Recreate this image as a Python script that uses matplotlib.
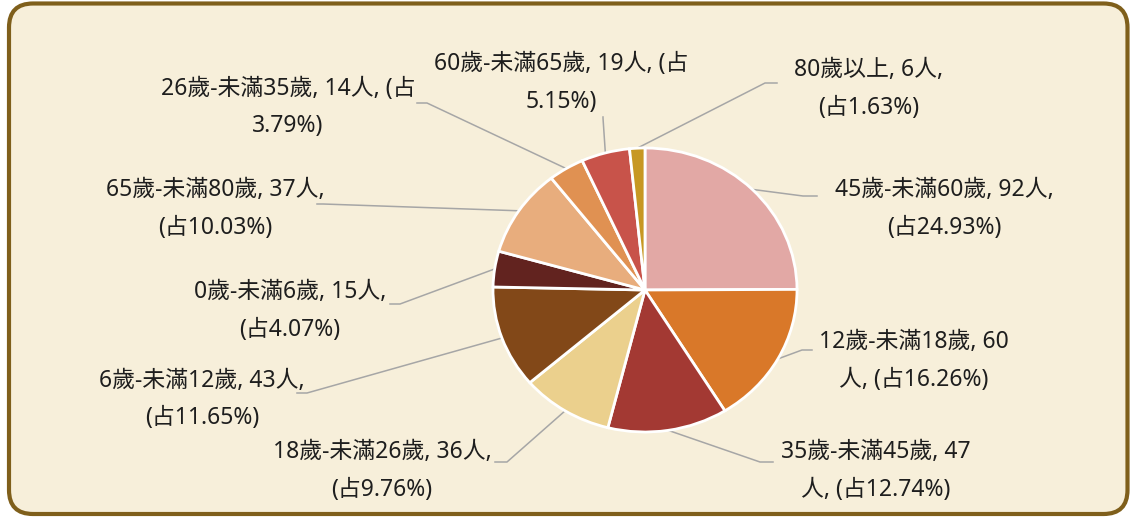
import numpy as np
import matplotlib.pyplot as plt
from matplotlib.patches import FancyBboxPatch

plt.rcParams['font.family'] = ['Noto Sans', 'Noto Sans CJK TC', 'DejaVu Sans']

# Data, clockwise from 12 o'clock
groups = ['45歲-未滿60歲', '12歲-未滿18歲', '35歲-未滿45歲', '18歲-未滿26歲', '6歲-未滿12歲',
          '0歲-未滿6歲', '65歲-未滿80歲', '26歲-未滿35歲', '60歲-未滿65歲', '80歲以上']
counts = [92, 60, 47, 36, 43, 15, 37, 14, 19, 6]
labels = [
    '45歲-未滿60歲, 92人,\n(占24.93%)',
    '12歲-未滿18歲, 60\n人, (占16.26%)',
    '35歲-未滿45歲, 47\n人, (占12.74%)',
    '18歲-未滿26歲, 36人,\n(占9.76%)',
    '6歲-未滿12歲, 43人,\n(占11.65%)',
    '0歲-未滿6歲, 15人,\n(占4.07%)',
    '65歲-未滿80歲, 37人,\n(占10.03%)',
    '26歲-未滿35歲, 14人, (占\n3.79%)',
    '60歲-未滿65歲, 19人, (占\n5.15%)',
    '80歲以上, 6人,\n(占1.63%)',
]
colors = ['#E2A8A5', '#D97829', '#A33933', '#EBD08D', '#824818',
          '#62231F', '#E8AD7D', '#E09152', '#C8534A', '#C79823']

# layout (pixels): label centre of first line, leader elbow, leader end
label_pos = [(944, 190), (914, 342), (876, 452), (382, 452), (202, 381),
             (290, 292), (215, 190), (288, 89), (561, 64), (869, 70)]
elbows = [(803, 196), (802, 350), (760, 462), (507, 462), (307, 393),
          (400, 304), (323, 204), (427, 103), (603, 118), (765, 83)]
ends = [(817, 196), (812, 350), (773, 462), (495, 462), (297, 393),
        (390, 304), (317, 204), (417, 103), (603, 117), (777, 83)]

W, H = 1131, 517
fig = plt.figure(figsize=(W / 100, H / 100), dpi=100)
fig.patch.set_facecolor('white')

# overlay axes in pixel coordinates
ax = fig.add_axes([0, 0, 1, 1])
ax.set_xlim(0, W)
ax.set_ylim(H, 0)
ax.axis('off')
ax.add_patch(FancyBboxPatch((9, 3.5), 1118.5, 510.5, boxstyle='round,pad=0,rounding_size=24',
                            facecolor='#F7EFDA', edgecolor='#7F5F1B', linewidth=3, zorder=0))

# pie (slightly elliptical like the original)
cx, cy, rx, ry = 645, 290, 152, 142
pax = fig.add_axes([(cx - rx) / W, (H - cy - ry) / H, 2 * rx / W, 2 * ry / H])
wedges, _ = pax.pie(counts, colors=colors, startangle=90, counterclock=False,
                    wedgeprops=dict(edgecolor='white', linewidth=2))
pax.set_aspect('auto')
pax.set_xlim(-1, 1)
pax.set_ylim(-1, 1)
pax.axis('off')

to_px = ax.transData.inverted()
for w, lab, (lx, ly), el, en in zip(wedges, labels, label_pos, elbows, ends):
    mid = np.deg2rad((w.theta1 + w.theta2) / 2)
    sx, sy = to_px.transform(pax.transData.transform((np.cos(mid), np.sin(mid))))
    ax.plot([sx, el[0], en[0]], [sy, el[1], en[1]], color='#A6A6A6', lw=1.1, zorder=5)
    for i, line in enumerate(lab.split('\n')):
        ax.text(lx, ly + i * 37.5, line, ha='center', va='center', fontsize=16.5,
                color='#1E1E1E', zorder=6)

fig.savefig('out.png', dpi=100)
